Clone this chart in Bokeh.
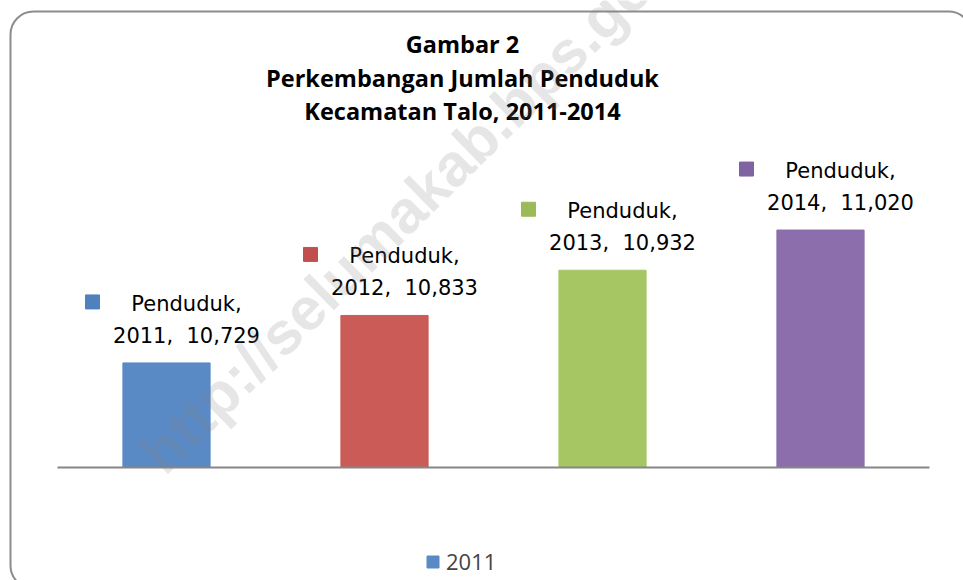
from bokeh.plotting import figure
from bokeh.models import Range1d, ColumnDataSource, Legend, LegendItem
from bokeh.core.properties import value
from bokeh.embed import file_html
from bokeh.resources import INLINE

# ---------------- data ----------------
years = ["2011", "2012", "2013", "2014"]
penduduk = [10729, 10833, 10932, 11020]
series_name = "Penduduk"
bar_colors = ["#5A8AC6", "#CB5B56", "#A6C563", "#8B6EAB"]
key_colors = ["#4F81BD", "#C0504D", "#9BBB59", "#8064A2"]
title_lines = ["Gambar 2", "Perkembangan Jumlah Penduduk", "Kecamatan Talo, 2011-2014"]
legend_label = "2011"
axis_min = 10500
watermark = "http://selumakab.bps.go.id"

# ---------------- layout (screen pixels) ----------------
W, H = 963, 580
OFF = 0
PLOT_L, PLOT_R = 57, 929
BASE_Y = 467
UNITS_PER_PX = 2.19
px_per_cat = (PLOT_R - PLOT_L) / len(years)


def sx(px):
    return (px - PLOT_L) / px_per_cat


def sy(py):
    return axis_min + (BASE_Y - py) * UNITS_PER_PX


p = figure(width=W, height=H,
           x_range=Range1d(sx(OFF), sx(OFF + W)),
           y_range=Range1d(sy(OFF + H), sy(OFF)),
           output_backend="svg", toolbar_location=None,
           min_border=0, x_axis_location=None, y_axis_location=None)
p.outline_line_color = None
p.background_fill_color = "white"
p.border_fill_color = "white"
p.xgrid.visible = False
p.ygrid.visible = False

xs = [i + 0.5 for i in range(len(years))]
source = ColumnDataSource(dict(
    x=xs,
    year=years,
    value=penduduk,
    color=bar_colors,
    key=key_colors,
    key_x=[x - 74 / px_per_cat for x in xs],
    key_y=[v + 61 * UNITS_PER_PX for v in penduduk],
    line1=[series_name + "," for _ in years],
    line2=[f"{y},\u00a0 {v:,}" for y, v in zip(years, penduduk)],
))

# frame
p.quad(left=sx(10), right=sx(971), top=sy(11), bottom=sy(588),
       fill_color=None, line_color="#8C8C8C", line_width=2, border_radius=23)

# bars
bars = p.vbar(x="x", top="value", bottom=axis_min, width=0.4,
              fill_color="color", line_color="color", source=source)

# baseline (category axis line)
p.segment(x0=0, x1=len(years), y0=axis_min, y1=axis_min,
          line_color="#868686", line_width=2)

# data labels
p.text(x="x", y="value", text="line2", source=source, x_offset=20, y_offset=-27,
       text_align="center", text_baseline="alphabetic",
       text_font=value("DejaVu Sans"), text_font_size="21px", text_color="black")
p.text(x="x", y="value", text="line1", source=source, x_offset=20, y_offset=-59,
       text_align="center", text_baseline="alphabetic",
       text_font=value("DejaVu Sans"), text_font_size="21px", text_color="black")
p.scatter(x="key_x", y="key_y", marker="square", size=14, source=source,
          fill_color="key", line_color="key")

# title
p.text(x=[sx(462)] * 3, y=[sy(43), sy(77), sy(110)], text=title_lines,
       text_align="center", text_baseline="alphabetic",
       text_font=value("Open Sans"), text_font_style="bold",
       text_font_size="23.5px", text_color="black")

# watermark
p.text(x=[sx(150)], y=[sy(462)], text=[watermark], angle=44.6, angle_units="deg",
       text_align="left", text_baseline="alphabetic",
       text_font=value("Liberation Sans"), text_font_style="bold",
       text_font_size="60px", text_color="#808080", text_alpha=0.2)

# legend
legend = Legend(items=[LegendItem(label=legend_label, renderers=[bars], index=0)],
                location=(425, 4), orientation="horizontal",
                glyph_width=15, glyph_height=15, label_standoff=6,
                label_text_font="Open Sans", label_text_font_size="22px",
                padding=0, margin=0, border_line_color=None,
                background_fill_alpha=0)
p.add_layout(legend)

open("out.html", "w").write(file_html(p, INLINE))
